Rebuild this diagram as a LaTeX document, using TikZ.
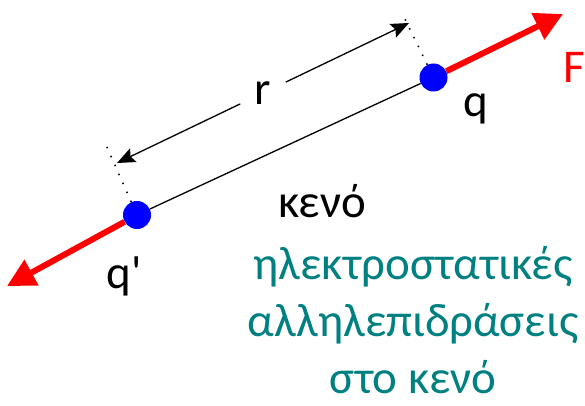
\documentclass[tikz,border=0pt]{standalone}
\usepackage{fontspec}
\setmainfont{Carlito}
\usetikzlibrary{arrows.meta}
\definecolor{tealtext}{RGB}{0,128,128}
\tikzset{
  charge/.style={circle, fill=blue, minimum size=28pt, inner sep=0pt},
  force/.style={draw=red, line width=6pt, -{Triangle[length=28pt,width=28pt]}},
  dist arrow/.style={line width=1.3pt, -{Stealth[length=18pt,width=15pt,inset=3pt]}},
  extension/.style={line width=1.5pt, dash pattern=on 1.5pt off 8.3pt},
  label text/.style={font=\fontsize{47}{57}\selectfont, inner sep=0pt}
}

\begin{document}
\begin{tikzpicture}[x=1pt,y=-1pt]
  \useasboundingbox (0,0) rectangle (585,406);

  \coordinate (Fq) at (563,14);
  \coordinate (Fqp) at (7,286);
  \coordinate (rq) at (409,23);
  \coordinate (rqp) at (117,163);
  \coordinate (eq) at (402,13);
  \coordinate (eqp) at (106,145);

  \node[charge] (q) at (433.5,77.5) {};
  \node[charge] (qp) at (137,215) {};

  \draw[line width=1.3pt] (q) -- (qp);
  \draw[force] (q) -- (Fq);
  \draw[force] (qp) -- (Fqp);
  \draw[extension] (q) -- (eq);
  \draw[extension] (qp) -- (eqp);

  \node[label text, minimum width=45pt, minimum height=34pt] (r) at (263,93) {r};
  \draw[dist arrow] (r) -- (rq);
  \draw[dist arrow] (r) -- (rqp);

  \node[label text, anchor=base] (qlbl) at (476,117) {q};
  \node[label text, anchor=base] (qplbl) at (124,288) {q\textquotesingle};
  \node[label text, anchor=base west, text=red] (Flbl) at (563,83) {F};
  \node[label text, anchor=base] (vac) at (322,217) {κενό};
  \node[label text, anchor=base, align=center, text=tealtext] (title) at (413,393)
    {ηλεκτροστατικές\\αλληλεπιδράσεις\\στο κενό};
\end{tikzpicture}
\end{document}
